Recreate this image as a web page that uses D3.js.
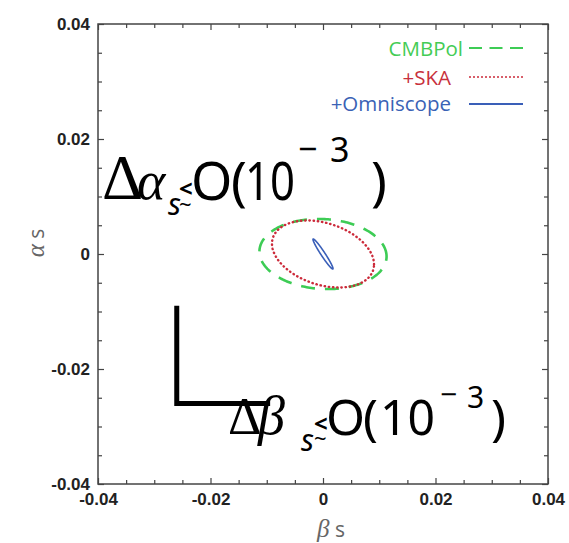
<!DOCTYPE html>
<html>
<head>
<meta charset="utf-8">
<script src="https://cdn.jsdelivr.net/npm/d3@7"></script>
<style>
  body { margin: 0; background: #fff; }
  .tick text { font-family: "Liberation Sans", Arial, sans-serif; font-weight: bold; font-size: 17px; fill: #222; }
  .tick line { stroke: #444; stroke-width: 1.2; }
  .domain { display: none; }
</style>
</head>
<body>
<div id="chart"></div>
<script>
// ellipses (data units)
var experiments = ["CMBPol", "+SKA", "+Omniscope"];
var centerBeta  = [0, 0, 0];
var centerAlpha = [0, 0, 0];
var sigmaBeta   = [0.0113, 0.00907, 0.00178];
var sigmaAlpha  = [0.0061, 0.00583, 0.00261];
var rho         = [-0.07, -0.31, -0.97];

// bracket drawn in the lower left
var bracketBeta  = [-0.026, -0.026, -0.0094];
var bracketAlpha = [-0.009, -0.026, -0.026];

var majorTicks = [-0.04, -0.02, 0, 0.02, 0.04];
var tickLabels = ["-0.04", "-0.02", "0", "0.02", "0.04"];
var minorTicks = [-0.035, -0.03, -0.025, -0.015, -0.01, -0.005, 0.005, 0.01, 0.015, 0.025, 0.03, 0.035];

// styles
var colors = ["#3dcc55", "#cc2a3a", "#3a5fb8"];
var textColors = ["#44cc55", "#c8303c", "#3a62b5"];
var dashes = ["14,10", "0.4,3.8", null];
var legendDashes = ["13,7.5", "2,2", null];
var widths = [2.6, 2.4, 1.6];
var legendTextEnd = [463, 451, 451];

var W = 569, H = 543;
var margin = {top: 24, right: 21, bottom: 59, left: 98},
    width = W - margin.left - margin.right,
    height = H - margin.top - margin.bottom;

var svg = d3.select("#chart").append("svg")
    .attr("width", W)
    .attr("height", H);

var g = svg.append("g")
    .attr("transform", "translate(" + margin.left + "," + margin.top + ")");

var x = d3.scaleLinear().domain([-0.04, 0.04]).range([0, width]);
var y = d3.scaleLinear().domain([-0.04, 0.04]).range([height, 0]);

function fmt(d) { return tickLabels[majorTicks.indexOf(d)]; }

// minor ticks on all four sides
g.append("g").attr("transform", "translate(0," + height + ")")
    .call(d3.axisBottom(x).tickValues(minorTicks).tickSize(-4).tickFormat(""));
g.append("g").call(d3.axisTop(x).tickValues(minorTicks).tickSize(-4).tickFormat(""));
g.append("g").call(d3.axisLeft(y).tickValues(minorTicks).tickSize(-4).tickFormat(""));
g.append("g").attr("transform", "translate(" + width + ",0)")
    .call(d3.axisRight(y).tickValues(minorTicks).tickSize(-4).tickFormat(""));

// major ticks
g.append("g").attr("transform", "translate(0," + height + ")")
    .call(d3.axisBottom(x).tickValues(majorTicks).tickSize(-6).tickPadding(9).tickFormat(fmt));
g.append("g").call(d3.axisTop(x).tickValues(majorTicks).tickSize(-6).tickFormat(""));
g.append("g").call(d3.axisLeft(y).tickValues(majorTicks).tickSize(-6).tickPadding(8).tickFormat(fmt));
g.append("g").attr("transform", "translate(" + width + ",0)")
    .call(d3.axisRight(y).tickValues(majorTicks).tickSize(-6).tickFormat(""));

g.append("rect")
    .attr("width", width).attr("height", height)
    .attr("fill", "none").attr("stroke", "#444").attr("stroke-width", 1.5);

// axis titles
var serif = "'Liberation Serif', 'Times New Roman', serif";
var sans = "'Noto Sans', 'DejaVu Sans', sans-serif";

var xt = svg.append("text")
    .attr("x", 317).attr("y", 537)
    .style("font-family", "'Open Sans', sans-serif").style("font-size", "21px").style("fill", "#666");
xt.append("tspan").style("font-family", serif).style("font-style", "italic").style("font-size", "25px").text("β");
xt.append("tspan").text(" s");

var yt = svg.append("text")
    .attr("transform", "translate(44,243) rotate(-90)")
    .attr("text-anchor", "middle")
    .style("font-family", "'Open Sans', sans-serif").style("font-size", "21px").style("fill", "#666");
yt.append("tspan").style("font-family", serif).style("font-style", "italic").style("font-size", "25px").text("α");
yt.append("tspan").text(" s");

// ellipses
var line = d3.line()
    .x(function(d) { return x(d[0]); })
    .y(function(d) { return y(d[1]); })
    .curve(d3.curveLinearClosed);

function ellipse(i) {
    var pts = [], n = 240, s = Math.sqrt(1 - rho[i] * rho[i]);
    for (var k = 0; k < n; k++) {
        var t = 2 * Math.PI * k / n;
        pts.push([centerBeta[i] + sigmaBeta[i] * Math.cos(t),
                  centerAlpha[i] + sigmaAlpha[i] * (rho[i] * Math.cos(t) + s * Math.sin(t))]);
    }
    return pts;
}

experiments.forEach(function(name, i) {
    g.append("path")
        .attr("d", line(ellipse(i)))
        .attr("fill", "none")
        .attr("stroke", colors[i])
        .attr("stroke-width", widths[i])
        .attr("stroke-linecap", i == 1 ? "round" : "butt")
        .attr("stroke-dasharray", dashes[i]);
});

// legend
var legendY = [48, 77, 104];
var legendBase = [56, 85, 111];
experiments.forEach(function(name, i) {
    svg.append("line")
        .attr("x1", 469).attr("x2", 523)
        .attr("y1", legendY[i]).attr("y2", legendY[i])
        .attr("stroke", colors[i])
        .attr("stroke-width", i == 1 ? 1.6 : 1.8)
        .attr("stroke-dasharray", legendDashes[i]);
    svg.append("text")
        .attr("x", legendTextEnd[i]).attr("y", legendBase[i])
        .attr("text-anchor", "end")
        .style("font-family", "'Open Sans', sans-serif").style("font-size", "20.5px")
        .style("fill", textColors[i])
        .text(name);
});

// black bracket
g.append("path")
    .datum(bracketBeta.map(function(b, i) { return [b, bracketAlpha[i]]; }))
    .attr("d", d3.line().x(function(d) { return x(d[0]); }).y(function(d) { return y(d[1]); }))
    .attr("fill", "none").attr("stroke", "#000").attr("stroke-width", 5)
    .attr("stroke-linejoin", "miter");

// big annotations
var pieces = [
    {t: "Δ", x: 102, y: 199, size: 64, fam: serif},
    {t: "α", x: 137, y: 199, size: 54, fam: serif, it: true},
    {t: "s", x: 168, y: 215, size: 30, fam: sans, it: true},
    {t: "<", x: 179, y: 197, size: 24, fam: sans, bold: true},
    {t: "~", x: 179, y: 212, size: 22, fam: sans},
    {t: "O", x: 191, y: 200, size: 53, fam: sans},
    {t: "(", x: 231, y: 200, size: 53, fam: sans},
    {t: "10", x: 245, y: 200, size: 53, fam: sans, len: 50},
    {t: "\u2212", x: 298, y: 161, size: 34, fam: sans},
    {t: "3", x: 330, y: 162, size: 34, fam: sans},
    {t: ")", x: 371, y: 200, size: 53, fam: sans},

    {t: "Δ", x: 228, y: 434, size: 52, fam: serif},
    {t: "β", x: 258, y: 434, size: 54, fam: serif, it: true},
    {t: "s", x: 301, y: 451, size: 30, fam: sans, it: true},
    {t: "<", x: 314, y: 432, size: 24, fam: sans, bold: true},
    {t: "~", x: 314, y: 446, size: 22, fam: sans},
    {t: "O", x: 326, y: 435, size: 50, fam: sans},
    {t: "(", x: 363, y: 435, size: 50, fam: sans},
    {t: "10", x: 380, y: 435, size: 50, fam: sans, len: 55},
    {t: "\u2212", x: 440, y: 405, size: 30, fam: sans},
    {t: "3", x: 467, y: 408, size: 30, fam: sans},
    {t: ")", x: 491, y: 435, size: 50, fam: sans}
];

pieces.forEach(function(p) {
    var t = svg.append("text")
        .attr("x", p.x).attr("y", p.y)
        .style("font-family", p.fam)
        .style("font-size", p.size + "px")
        .style("font-style", p.it ? "italic" : "normal")
        .style("font-weight", p.bold ? "bold" : "normal")
        .style("fill", "#000")
        .text(p.t);
    if (p.len) t.attr("textLength", p.len).attr("lengthAdjust", "spacingAndGlyphs");
});
</script>
</body>
</html>
